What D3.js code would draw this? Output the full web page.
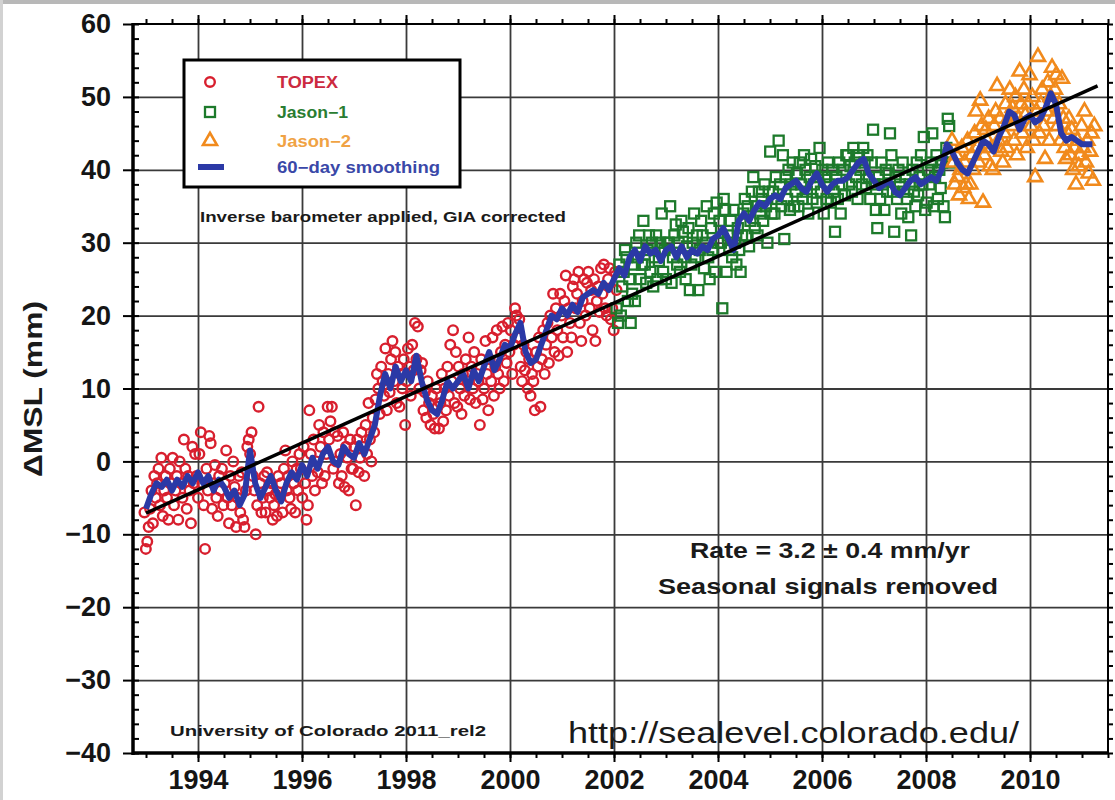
<!DOCTYPE html>
<html>
<head>
<meta charset="utf-8">
<style>
  body { margin: 0; background: #fff; }
  text { font-family: "Liberation Sans", Arial, sans-serif; }
  .grid line { stroke: #3a3a3a; stroke-width: 1.8; }
  .grid .domain { display: none; }
  .ax .domain { display: none; }
  .ax line { stroke: #000; stroke-width: 2; }
  .ax text { font-size: 27px; font-weight: bold; fill: #151515; }
</style>
</head>
<body>
<script src="https://cdn.jsdelivr.net/npm/d3@7"></script>
<script>

// ---- data (10-day cycles) ----
var cycleStep = 0.0271;   // ~9.92 days
var topexStart = 1992.97;
var jason1Start = 2002.05;
var jason2Start = 2008.5;
var smoothStart = 1993.0, smoothStep = 0.1;

var topexVals = [
  -7,-12,-11,-9,-6.5,-4,-8.5,-2,-5,-3,-1,-6,0.5,-7.5,-4,-2,-5,-8,-1,-3,0.5,-6,-4,-2,-8,0,-3,-5,3,-1,-6.5,-2,-4,-8.5,2,-3,1,
  -2,-5,1,4,-3,-6,-12,-1,-4,3.5,2.5,-6.5,-3,-0.5,-5,-7.5,-2,-4,-1,-6,-3,1.5,-5,-8.5,-2,-6,0,-3.5,-9,-5,-2,-7,-1.5,-8,-9,-4,2,
  3,1,4,-2,-4,-10,-6,7.5,-3,-7,-5,-2,-7,-1.5,-4,-5,-3,-8,-6,-4.5,-7.5,-2,-5,-3,-7,-1,1.5,-4,-2,-5,-6.5,0,-3,-7,-1,-4,1,
  -1,-5,2,-3,-8,-6,7,1,-2,3,-4,0,-1.5,5,2,-3,4,-2,1,7.5,3,5.5,7.5,-1,4,0,3.5,-3,1,-2,4,-3.5,2,0.5,-4,3,-1,
  -1,2,-6,3,-1.5,0.5,4,2,-2,5,1,8,3,0,6,4,8.5,12,10,6.5,13,11,9,15.5,7,12,9.5,14,16.5,11,15,8,13,7.5,12,10,14,
  5,11,15.5,13,9,16,12.5,19,14,18.5,10,12.5,13.5,7,9.5,6,11,8,5,9,6.5,4.5,10,7.5,4.5,8,12,5.5,10,7,13,9,16,11,18,8,15,
  7.5,13,10,6.5,12,9,14,11,17,8.5,13,10,15,8,12,11,5,14,8.5,10,16.5,12,7,14,11,17,9,13,18,12,10,15,18.5,11,16,13.5,19,
  15,18,12,16,21,20,17,19.5,13,11,16,12.5,15,10,14,9,12,11,7,15,13,17,7.5,14,18,12,16,19,13.5,20,17,23,15,21,18,14.5,23,
  20,17,22,25.5,15,21,19,17,24,25,21,23,26,19,16.5,22,25,20,24.5,26,21,23.5,18,25,16.5,22,24,20.5,26.5,23,27,21,20,25,26.5,19.5,21,
  18,26,23.5
];

var jason1Vals = [
  21,19,27,20,24,26,29,28,22,25,19,23,27,22,30,28,31,25,27,33,27,24.5,29,31,26,30,24,28,31,25,27.5,30,34,26,29,25,30,
  30,35,24.5,28,31,32.5,27,30,26,33,31.5,28,25,29.5,32,23.5,27,30,34,28,31,23.5,29,33,31,26.5,30,35,28,25,32,29,34,26,35.5,30,33,
  30,21,36,34.5,26,31,29,33,28,34.5,30,27,32,29,26,31,34,36,31,35,29.5,33,37,39,32,35,31,37,34,36,33,38,35,30,37,42.5,34,
  37,34,39,36,44,38,35,42,30.5,39,36,40,34.5,38,41,35,37,39.5,35,41,38,36,42,40,37,34,39,41.5,36,38,40.5,35.5,39,43,37,40,34,
  39,36,41,38,35.5,40,37,31.5,39,36,41,34,38,40,36.5,42,42,38,40.5,37,43,41,39,36,42,40,38,43,41,37.5,42,39,36,41,45.5,38,34.5,
  32,39,36,41,38,34.5,40,37,39.5,45,42,37,31.5,39,36,40,38,34,41,37,39,36,33.5,38,31,40,37,35,41,36.5,39,42,38,44.5,34.5,35.5,40,
  38,41,45,35,39,42,36,40,37.5,41,35,33.5,43,47,46,41
];

var jason2Vals = [
  44,41,38,42,39,36.5,40,43,37.5,41,38,44,36,38,42,40,45,48,43,41,49.5,46,35.5,42,45.5,44,47,40.5,43,40,46,48,51.5,44,47,42.5,41,
  45,49,43,47,51,46,48.5,44,50,42,47,53.5,49,45,51,47.5,43,49,53,46,50,44,39,48,55.5,45,49,51,46,41.5,48,52,44,50,54,47,51,
  53,46,49,44,52.5,47,43,41.5,45,47,42,45.5,40,43,38,44,40.5,42,46,43,48,41,44,39.5,42.5,45,38.5,46
];

// 60-day smoothing, one value every 0.1 yr from 1993.0
var smoothVals = [
  -6.5,-4.5,-3,-3.5,-2.5,-4,-2.5,-3.5,-2,-3,
  -1.5,-3,-2,-4,-2.5,-3.5,-5,-4,-6,-4.5,
  1.5,-3,-5,-3.5,-2,-4,-5.5,-3,-1.5,-2.5,
  -0.5,-2,0.5,-1,1,2,0,-0.5,2,1,
  0.5,2.5,1,3,5,9,12,10,13,11,
  12.5,11,14.5,11,8.5,7,6.5,8.5,11,10,
  11,12,10,12.5,11,13,15,12.5,14,16,
  15.5,17.5,19,15,13.5,14,16,18,20,19.5,
  21,20,21.5,20.5,22.5,23,23.5,23,24.5,23.5,
  25,26.5,25.5,28,29,27.5,29.5,28.5,29,27.5,
  29,29.5,28,29.5,28,29,28.5,29.5,29,30.5,
  31,32,30.5,29,33,34,33,34.5,35.5,35,
  36,36.5,36,37.5,38,38.5,37.5,37,38.5,39.5,
  38,37,38,38.5,38.5,39,40,41,41.5,39.5,
  38.5,37.5,38,38.5,37,36.5,37.5,38.5,39,38,
  38.5,39,38.5,40,43.5,42.5,41,40,39.5,41,
  42.5,44,43.5,42.5,44.5,46,48,47.5,45.5,47,
  47.5,46.5,47,48.5,50.5,49,45,44,44.5,44,
  43.5,43.5,43.5
];

// linear fit, 3.2 mm/yr
var trendYears = [1993.0, 2011.3];
var trendVals = [-7.1, 51.5];

var yearTicks = [1994, 1996, 1998, 2000, 2002, 2004, 2006, 2008, 2010];
var mmTicks = [-40, -30, -20, -10, 0, 10, 20, 30, 40, 50, 60];
var legendNames = ["TOPEX", "Jason\u22121", "Jason\u22122", "60\u2212day smoothing"];

// ---- chart ----
var W = 1115, H = 800;
var pL = 133, pR = 1108, pT = 24, pB = 753;

var x = d3.scaleLinear().domain([1992.75, 2011.5]).range([pL, pR]);
var y = d3.scaleLinear().domain([-40, 60]).range([pB, pT]);

var svg = d3.select("body").append("svg")
  .attr("width", W).attr("height", H);

// screenshot border
svg.append("rect").attr("x", 0).attr("y", 0).attr("width", W).attr("height", 4).attr("fill", "#b8b8b8");
svg.append("rect").attr("x", 0).attr("y", 0).attr("width", 3).attr("height", H).attr("fill", "#d2d2d2");

var xMinor = d3.range(1993, 2011.51, 0.5);
var yMinor = d3.range(-40, 60.1, 2);

// grid
svg.append("g").attr("class", "grid")
  .attr("transform", "translate(0," + pB + ")")
  .call(d3.axisBottom(x).tickValues(yearTicks).tickSize(-(pB - pT)).tickFormat(""));
svg.append("g").attr("class", "grid")
  .attr("transform", "translate(" + pL + ",0)")
  .call(d3.axisLeft(y).tickValues(mmTicks.slice(1, -1)).tickSize(-(pR - pL)).tickFormat(""));

function pts(vals, start) {
  return vals.map(function(v, i) { return {t: start + i * cycleStep, v: v}; });
}

var redC = "#d81f2e", greenC = "#1d7a2b", orangeC = "#f18a1c", blueC = "#2b39a6";

// TOPEX circles
svg.append("g").selectAll("circle")
  .data(pts(topexVals, topexStart))
  .enter().append("circle")
    .attr("cx", function(d) { return x(d.t); })
    .attr("cy", function(d) { return y(d.v); })
    .attr("r", 4.8)
    .attr("fill", "none")
    .attr("stroke", redC)
    .attr("stroke-width", 2.4);

// Jason-1 squares
svg.append("g").selectAll("rect")
  .data(pts(jason1Vals, jason1Start))
  .enter().append("rect")
    .attr("x", function(d) { return x(d.t) - 5; })
    .attr("y", function(d) { return y(d.v) - 5; })
    .attr("width", 10).attr("height", 10)
    .attr("fill", "none")
    .attr("stroke", greenC)
    .attr("stroke-width", 2.3);

// Jason-2 triangles
var tri = d3.symbol().type(d3.symbolTriangle).size(85);
svg.append("g").selectAll("path")
  .data(pts(jason2Vals, jason2Start))
  .enter().append("path")
    .attr("d", tri)
    .attr("transform", function(d) { return "translate(" + x(d.t) + "," + y(d.v) + ")"; })
    .attr("fill", "none")
    .attr("stroke", orangeC)
    .attr("stroke-width", 2.6);

// smoothing
var smooth = smoothVals.map(function(v, i) { return {t: smoothStart + i * smoothStep, v: v}; });
svg.append("path")
  .datum(smooth)
  .attr("fill", "none")
  .attr("stroke", blueC)
  .attr("stroke-width", 6)
  .attr("stroke-linejoin", "round")
  .attr("d", d3.line().x(function(d) { return x(d.t); }).y(function(d) { return y(d.v); }));

// trend
svg.append("path")
  .datum(trendYears.map(function(t, i) { return {t: t, v: trendVals[i]}; }))
  .attr("fill", "none")
  .attr("stroke", "#000")
  .attr("stroke-width", 3.5)
  .attr("d", d3.line().x(function(d) { return x(d.t); }).y(function(d) { return y(d.v); }));

// frame
svg.append("rect")
  .attr("x", pL).attr("y", pT)
  .attr("width", pR - pL).attr("height", pB - pT)
  .attr("fill", "none").attr("stroke", "#000").attr("stroke-width", 2);
svg.append("line").attr("x1", pL).attr("x2", pL).attr("y1", pT - 1).attr("y2", pB + 2)
  .attr("stroke", "#000").attr("stroke-width", 3.5);
svg.append("line").attr("x1", pL - 1).attr("x2", pR + 1).attr("y1", pB).attr("y2", pB)
  .attr("stroke", "#000").attr("stroke-width", 3.5);

// axes
svg.append("g").attr("class", "ax")
  .attr("transform", "translate(0," + pB + ")")
  .call(d3.axisBottom(x).tickValues(yearTicks).tickSize(9).tickPadding(8).tickFormat(d3.format("d")));
svg.append("g").attr("class", "ax")
  .attr("transform", "translate(0," + pB + ")")
  .call(d3.axisBottom(x).tickValues(xMinor).tickSize(5).tickFormat(""));
svg.append("g").attr("class", "ax")
  .attr("transform", "translate(0," + pT + ")")
  .call(d3.axisTop(x).tickValues(yearTicks).tickSize(9).tickFormat(""));
svg.append("g").attr("class", "ax")
  .attr("transform", "translate(0," + pT + ")")
  .call(d3.axisTop(x).tickValues(xMinor).tickSize(5).tickFormat(""));
svg.append("g").attr("class", "ax")
  .attr("transform", "translate(" + pL + ",0)")
  .call(d3.axisLeft(y).tickValues(mmTicks).tickSize(10).tickPadding(12));
svg.append("g").attr("class", "ax")
  .attr("transform", "translate(" + pL + ",0)")
  .call(d3.axisRight(y).tickValues(yMinor).tickSize(6).tickFormat(""));
svg.append("g").attr("class", "ax")
  .attr("transform", "translate(" + pR + ",0)")
  .call(d3.axisRight(y).tickValues(yMinor).tickSize(5).tickFormat(""));

svg.selectAll(".ax text").attr("font-size", 27);

// y title
svg.append("text")
  .attr("transform", "translate(42,389) rotate(-90)")
  .attr("text-anchor", "middle")
  .attr("font-size", 25).attr("font-weight", "bold").attr("fill", "#1a1a1a")
  .attr("textLength", 176).attr("lengthAdjust", "spacingAndGlyphs")
  .text("\u0394MSL (mm)");

// legend
var lg = svg.append("g");
lg.append("rect").attr("x", 184).attr("y", 60).attr("width", 276).attr("height", 127)
  .attr("fill", "#fff").attr("stroke", "#000").attr("stroke-width", 3);
var legendColors = ["#cc2a40", "#2a7d32", "#f0a244", "#3a48a8"];
var legendRowY = [82, 112, 141, 167];
var legendLen = [61, 71, 74, 163];
lg.append("circle").attr("cx", 210).attr("cy", legendRowY[0]).attr("r", 4.8)
  .attr("fill", "none").attr("stroke", redC).attr("stroke-width", 2.4);
lg.append("rect").attr("x", 205).attr("y", legendRowY[1] - 5).attr("width", 10).attr("height", 10)
  .attr("fill", "none").attr("stroke", greenC).attr("stroke-width", 2.3);
lg.append("path").attr("d", tri).attr("transform", "translate(210," + legendRowY[2] + ")")
  .attr("fill", "none").attr("stroke", orangeC).attr("stroke-width", 2.6);
lg.append("line").attr("x1", 198).attr("x2", 224).attr("y1", legendRowY[3]).attr("y2", legendRowY[3])
  .attr("stroke", blueC).attr("stroke-width", 6);
lg.selectAll("text.lt").data(legendNames).enter().append("text")
  .attr("class", "lt")
  .attr("x", 277)
  .attr("y", function(d, i) { return legendRowY[i] + 6; })
  .attr("font-size", 16).attr("font-weight", "bold")
  .attr("fill", function(d, i) { return legendColors[i]; })
  .attr("textLength", function(d, i) { return legendLen[i]; })
  .attr("lengthAdjust", "spacingAndGlyphs")
  .text(function(d) { return d; });

// notes
function note(str, xx, yy, size, weight, len, anchor) {
  svg.append("text").attr("x", xx).attr("y", yy)
    .attr("font-size", size).attr("font-weight", weight)
    .attr("fill", "#1a1a1a")
    .attr("text-anchor", anchor || "start")
    .attr("textLength", len).attr("lengthAdjust", "spacingAndGlyphs")
    .text(str);
}
note("Inverse barometer applied, GIA corrected", 200, 222, 14, "bold", 366);
note("Rate = 3.2 \u00b1 0.4 mm/yr", 690, 558, 22, "bold", 280);
note("Seasonal signals removed", 658, 594, 22, "bold", 340);
note("University of Colorado 2011_rel2", 170, 736, 14, "bold", 316);
note("http://sealevel.colorado.edu/", 568, 743, 30, "normal", 451);

</script>
</body>
</html>
